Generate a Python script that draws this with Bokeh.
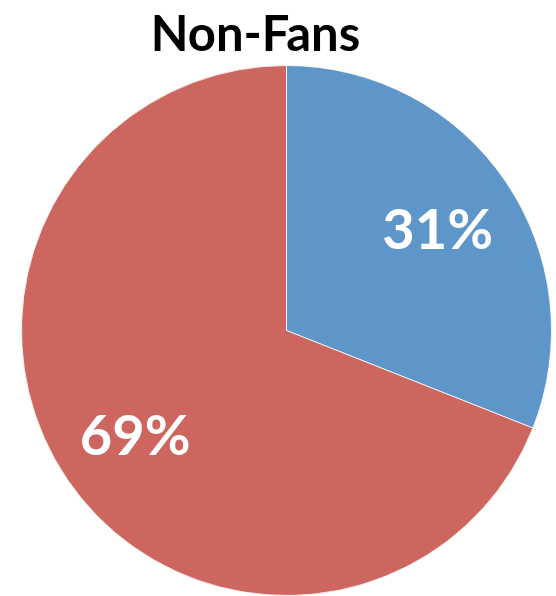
import math
from bokeh.plotting import figure
from bokeh.models import Range1d, ColumnDataSource
from bokeh.core.properties import value
from bokeh.embed import file_html
from bokeh.resources import INLINE

title_text = "Non-Fans"
categories = ["Fans", "Non-Fans"]
shares = [31, 69]
colors = ["#5F96C9", "#CD665F"]

W, H = 556, 596
p = figure(width=W, height=H, output_backend="svg", toolbar_location=None,
           x_range=Range1d(0, W), y_range=Range1d(0, H), min_border=0)
p.axis.visible = False
p.grid.visible = False
p.outline_line_color = None
p.background_fill_color = "white"
p.border_fill_color = "white"

cx, cy, R = 286, 266, 265
total = sum(shares)
starts, ends, lx, ly, labels = [], [], [], [], []
cur = math.pi / 2
for s in shares:
    sweep = 2 * math.pi * s / total
    st, en = cur - sweep, cur
    starts.append(st)
    ends.append(en)
    mid = (st + en) / 2
    lx.append(cx + 0.69 * R * math.cos(mid))
    ly.append(cy + 0.69 * R * math.sin(mid))
    labels.append(f"{s}%")
    cur = st

src = ColumnDataSource(dict(cat=categories, start=starts, end=ends, color=colors,
                            lx=lx, ly=ly, label=labels))
p.wedge(x=cx, y=cy, radius=R, start_angle="start", end_angle="end",
        fill_color="color", line_color="white", line_width=0.8, source=src)
p.text(x="lx", y="ly", text="label", source=src, text_color="white",
       text_font=value("Lato"), text_font_style="bold", text_font_size="56px",
       text_align="center", text_baseline="middle")
p.text(x=[255], y=[565], text=[title_text], text_color="black",
       text_font=value("Lato"), text_font_style="bold", text_font_size="49px",
       text_align="center", text_baseline="middle")

open("out.html", "w").write(file_html(p, INLINE))
